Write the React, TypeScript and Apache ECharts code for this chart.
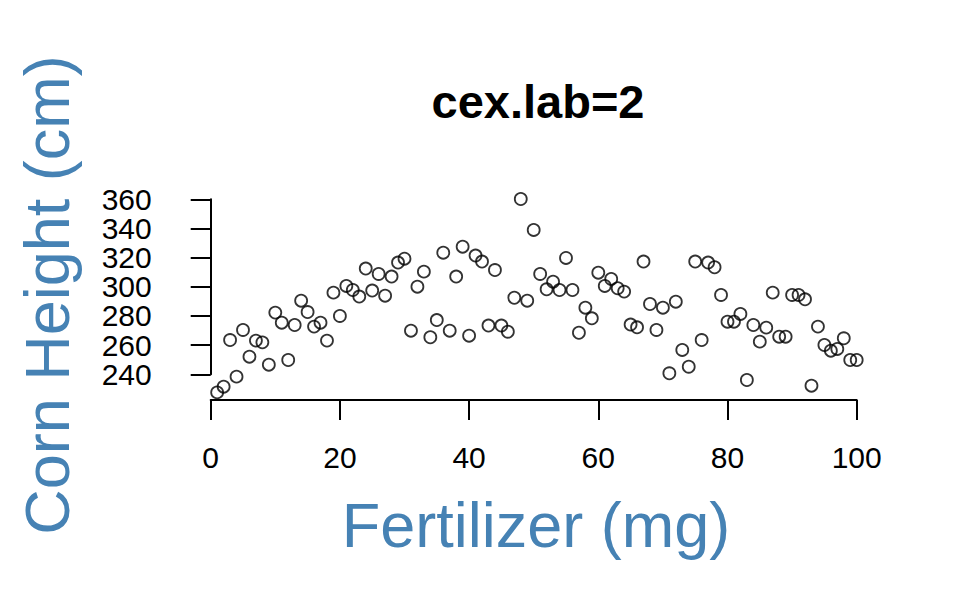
import React, { useEffect, useRef } from "react";
import * as echarts from "echarts";

const chartTitle = "cex.lab=2";
const xLabel = "Fertilizer (mg)";
const yLabel = "Corn Height (cm)";
const xTicks = [0, 20, 40, 60, 80, 100];
const yTicks = [240, 260, 280, 300, 320, 340, 360];

const fertilizer = [
  1, 2, 3, 4, 5, 6, 7, 8, 9, 10, 11, 12, 13, 14, 15, 16, 17, 18, 19, 20,
  21, 22, 23, 24, 25, 26, 27, 28, 29, 30, 31, 32, 33, 34, 35, 36, 37, 38, 39, 40,
  41, 42, 43, 44, 45, 46, 47, 48, 49, 50, 51, 52, 53, 54, 55, 56, 57, 58, 59, 60,
  61, 62, 63, 64, 65, 66, 67, 68, 69, 70, 71, 72, 73, 74, 75, 76, 77, 78, 79, 80,
  81, 82, 83, 84, 85, 86, 87, 88, 89, 90, 91, 92, 93, 94, 95, 96, 97, 98, 99, 100,
];

const cornHeight = [
  227.6, 231.5, 263.5, 238.4, 270.4, 252.1, 263.1, 261.9, 246.6, 282.3,
  275.4, 249.8, 273.8, 290.5, 282.7, 272.7, 275.4, 263.1, 296.0, 280.0,
  300.6, 297.8, 293.3, 312.5, 297.4, 308.8, 293.9, 307.0, 316.6, 319.3,
  269.9, 300.1, 310.4, 265.4, 277.2, 323.4, 269.9, 307.0, 327.5, 266.5,
  321.4, 317.3, 273.4, 311.5, 273.4, 269.2, 292.5, 360.2, 290.5, 339.0,
  308.8, 298.3, 303.5, 297.8, 319.8, 297.8, 268.5, 285.7, 278.4, 309.7,
  300.6, 305.4, 299.0, 296.7, 274.1, 272.2, 317.3, 288.2, 270.4, 285.7,
  240.7, 289.8, 256.7, 245.2, 317.3, 263.5, 316.6, 313.4, 294.4, 276.1,
  276.1, 281.4, 236.1, 273.8, 262.4, 272.0, 296.0, 265.8, 265.8, 294.4,
  294.4, 291.4, 232.2, 272.7, 260.1, 256.2, 257.4, 264.7, 249.8, 249.8,
];

const FONT = "'Liberation Sans', Arial, Helvetica, sans-serif";
const LABEL_COLOR = "#4682B4";

export default function App() {
  const ref = useRef<HTMLDivElement>(null);

  useEffect(() => {
    if (!ref.current) return;
    const chart = echarts.init(ref.current, null, { renderer: "svg" });
    const data = fertilizer.map((x, i) => [x, cornHeight[i]]);
    const axisLine = { show: true, lineStyle: { color: "#000", width: 2 } };
    const axisTick = { show: true, length: 20, lineStyle: { color: "#000", width: 2 } };
    const yLabelsA = yTicks.filter((_, i) => i % 2 === 0);
    const yLabelsB = yTicks.filter((_, i) => i % 2 === 1);
    const yLabelStyle = {
      fontFamily: FONT,
      fontSize: 30,
      lineHeight: 22,
      color: "#000",
      margin: 39,
      showMinLabel: true,
      showMaxLabel: true,
      hideOverlap: false,
    };
    const yBase = {
      type: "value",
      position: "left",
      min: yTicks[0],
      max: yTicks[yTicks.length - 1],
      interval: 20,
      offset: 20,
      splitLine: { show: false },
    };
    chart.setOption({
      animation: false,
      backgroundColor: "#ffffff",
      title: {
        text: chartTitle,
        left: 533,
        top: 73,
        textAlign: "center",
        textStyle: { fontFamily: FONT, fontSize: 47, fontWeight: "bold", color: "#000" },
      },
      grid: { left: 210.7, right: 103.3, top: 199.3, bottom: 218.7, containLabel: false },
      xAxis: {
        type: "value",
        min: xTicks[0],
        max: xTicks[xTicks.length - 1],
        interval: 20,
        offset: 25.7,
        axisLine,
        axisTick,
        splitLine: { show: false },
        axisLabel: {
          fontFamily: FONT,
          fontSize: 30,
          color: "#000",
          margin: 42,
          showMinLabel: true,
          showMaxLabel: true,
        },
      },
      yAxis: [
        {
          ...yBase,
          axisLine,
          axisTick,
          axisLabel: { ...yLabelStyle, customValues: yLabelsA },
        },
        {
          ...yBase,
          axisLine: { show: false },
          axisTick: { show: false },
          axisLabel: { ...yLabelStyle, customValues: yLabelsB },
        },
      ],
      graphic: [
        {
          type: "text",
          x: 536,
          y: 525,
          style: {
            text: xLabel,
            fontFamily: FONT,
            fontSize: 63,
            fill: LABEL_COLOR,
            align: "center",
            verticalAlign: "middle",
          },
        },
        {
          type: "text",
          x: 46.6,
          y: 295,
          rotation: Math.PI / 2,
          style: {
            text: yLabel,
            fontFamily: FONT,
            fontSize: 63,
            fill: LABEL_COLOR,
            align: "center",
            verticalAlign: "middle",
          },
        },
      ],
      series: [
        {
          type: "scatter",
          data,
          clip: false,
          symbol: "circle",
          symbolSize: 12,
          itemStyle: { color: "rgba(0,0,0,0)", borderColor: "#000", borderWidth: 1.8 },
        },
      ],
    });
    return () => chart.dispose();
  }, []);

  return (
    <div
      ref={ref}
      style={{ position: "absolute", left: 0, top: 0, width: 960, height: 593 }}
    />
  );
}
